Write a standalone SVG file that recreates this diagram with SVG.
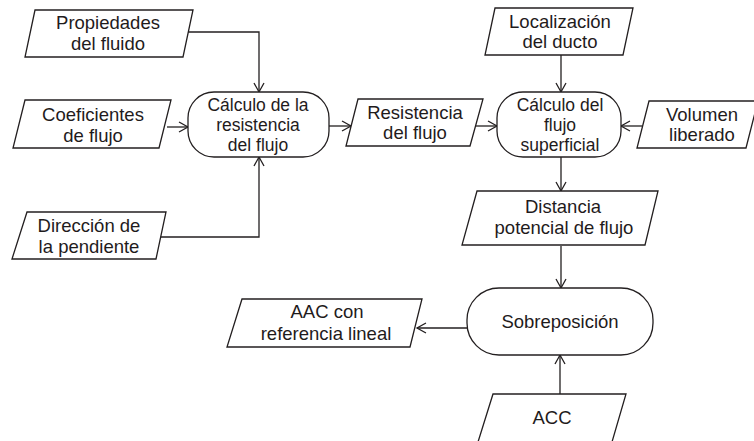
<svg xmlns="http://www.w3.org/2000/svg" width="754" height="441" viewBox="0 0 754 441">
<defs>
<marker id="arr" viewBox="0 0 12 12" markerWidth="12" markerHeight="12" refX="10" refY="6" orient="auto" markerUnits="userSpaceOnUse">
<path d="M1,1 L10,6 L1,11" fill="none" stroke="#231f20" stroke-width="1.3"/>
</marker>
<style>
.s{fill:#fff;stroke:#231f20;stroke-width:1.3}
.t{font-family:"Liberation Sans",Arial,sans-serif;font-size:18.5px;fill:#1f1b1c;text-anchor:middle}
.n{font-size:17.5px}
.c{fill:none;stroke:#231f20;stroke-width:1.3;marker-end:url(#arr)}
</style>
</defs>
<rect width="754" height="441" fill="#fff"/>
<g id="connectors">
<path class="c" d="M188,32 H259 V92"/>
<path class="c" d="M167,127 H188"/>
<path class="c" d="M154,237 H259 V157"/>
<path class="c" d="M329,126 H351"/>
<path class="c" d="M476,126 H497"/>
<path class="c" d="M561,55 V92"/>
<path class="c" d="M642,126 H621"/>
<path class="c" d="M561,157 V191"/>
<path class="c" d="M561,246 V288"/>
<path class="c" d="M467,328 H417"/>
<path class="c" d="M560,394 V355"/>
</g>
<g id="n_propiedades">
<polygon class="s" points="35,10 193,10 183,57 25,57"/>
<text class="t" x="108" y="29">Propiedades</text>
<text class="t" x="108" y="50">del fluido</text>
</g>
<g id="n_coeficientes">
<polygon class="s" points="25,100 171,100 159,148 13,148"/>
<text class="t" x="93" y="121">Coeficientes</text>
<text class="t" x="93" y="142">de flujo</text>
</g>
<g id="n_direccion">
<polygon class="s" points="27,212 166,212 156,259 12,259"/>
<text class="t" x="89" y="232">Dirección de</text>
<text class="t" x="89" y="253">la pendiente</text>
</g>
<g id="n_calculo_resistencia">
<rect class="s" x="188" y="92" width="141" height="65" rx="26" ry="26"/>
<text class="t n" x="258" y="110.5">Cálculo de la</text>
<text class="t n" x="258" y="130.5">resistencia</text>
<text class="t n" x="258" y="150.5">del flujo</text>
</g>
<g id="n_resistencia">
<polygon class="s" points="358,99 483,99 470,146 346,146"/>
<text class="t" x="415" y="119">Resistencia</text>
<text class="t" x="415" y="139">del flujo</text>
</g>
<g id="n_localizacion">
<polygon class="s" points="495,8 633,8 623,55 485,55"/>
<text class="t" x="560" y="28">Localización</text>
<text class="t" x="560" y="48">del ducto</text>
</g>
<g id="n_calculo_flujo">
<rect class="s" x="497" y="92" width="124" height="65" rx="26" ry="26"/>
<text class="t n" x="560" y="110.5">Cálculo del</text>
<text class="t n" x="560" y="130.5">flujo</text>
<text class="t n" x="560" y="150.5">superficial</text>
</g>
<g id="n_volumen">
<polygon class="s" points="649,101 758,101 746,148 637,148"/>
<text class="t" x="702" y="121">Volumen</text>
<text class="t" x="702" y="141">liberado</text>
</g>
<g id="n_distancia">
<polygon class="s" points="477,191 658,191 645,245 462,245"/>
<text class="t" x="563" y="213">Distancia</text>
<text class="t" x="564" y="234">potencial de flujo</text>
</g>
<g id="n_sobreposicion">
<rect class="s" x="467" y="288" width="186" height="67" rx="32" ry="32"/>
<text class="t" x="560" y="328">Sobreposición</text>
</g>
<g id="n_aac">
<polygon class="s" points="242,299 422,299 410,347 227,347"/>
<text class="t" x="327" y="318">AAC con</text>
<text class="t" x="326" y="340">referencia lineal</text>
</g>
<g id="n_acc">
<polygon class="s" points="493,394 626,394 612,442 478,442"/>
<text class="t" x="552" y="424">ACC</text>
</g>
</svg>
